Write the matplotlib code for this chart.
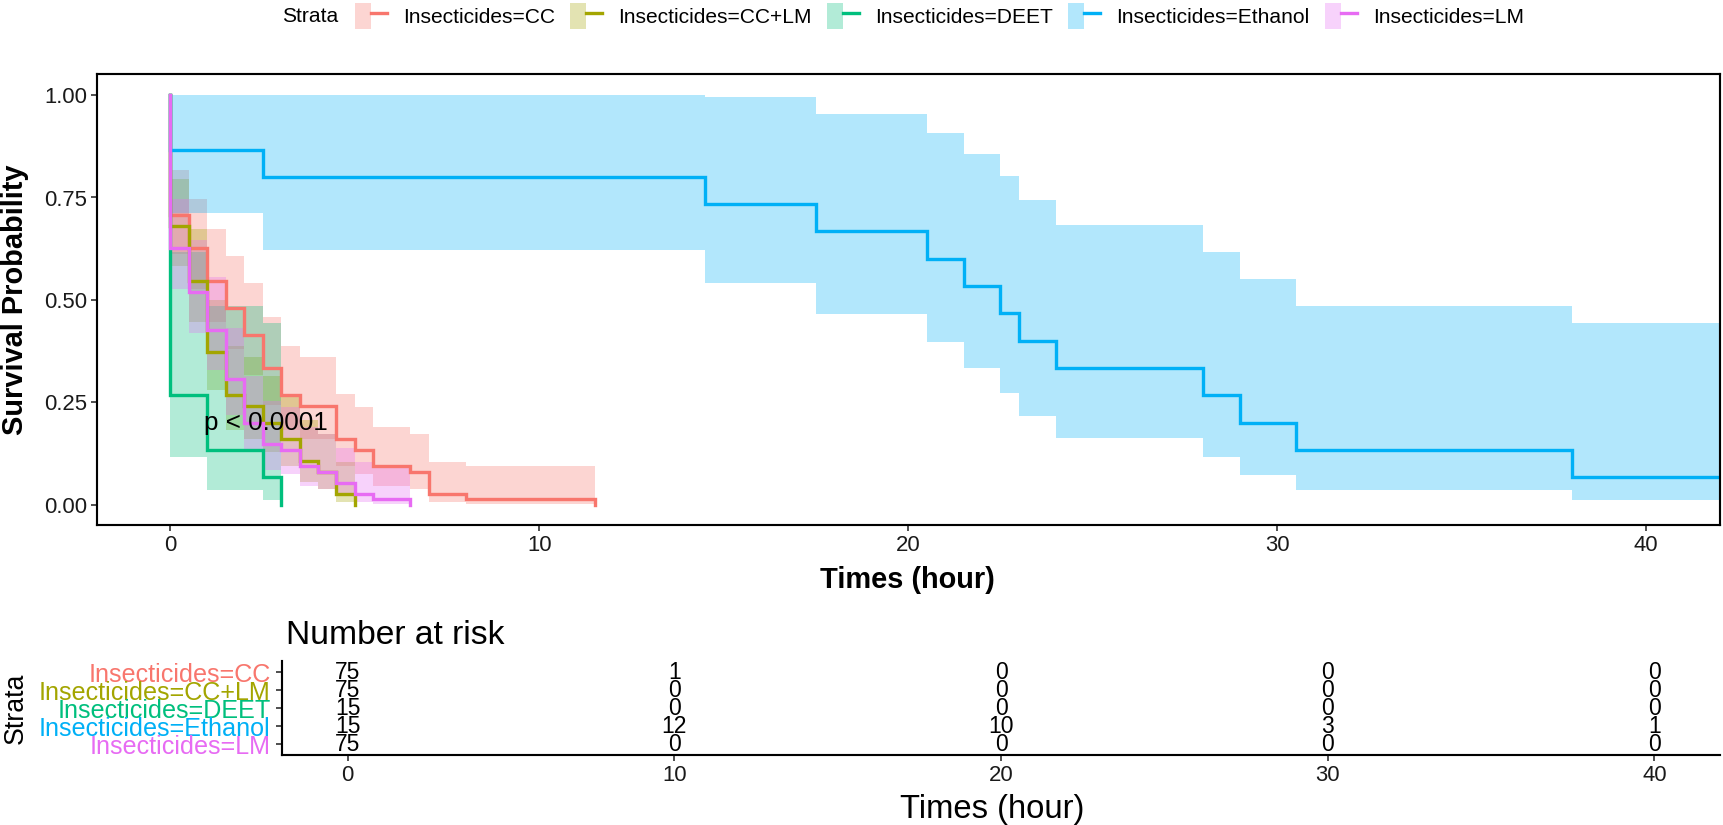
import matplotlib
matplotlib.use("Agg")
import matplotlib.pyplot as plt
from matplotlib.patches import Patch
from matplotlib.lines import Line2D
from matplotlib.legend_handler import HandlerTuple

plt.rcParams['font.family'] = ['Liberation Sans', 'DejaVu Sans']

strata = ["Insecticides=CC", "Insecticides=CC+LM", "Insecticides=DEET",
          "Insecticides=Ethanol", "Insecticides=LM"]
colors = ["#F8766D", "#A3A500", "#00BF7D", "#00B0F6", "#E76BF3"]

# Kaplan-Meier steps (time of each drop, survival after it)
cc_time = [0, 0.5, 1, 1.5, 2, 2.5, 3, 3.5, 4.5, 5, 5.5, 6.5, 7, 8, 11.5]
cc_surv = [0.7067, 0.6267, 0.5467, 0.48, 0.4133, 0.3333, 0.2667, 0.24, 0.16,
           0.1333, 0.0933, 0.08, 0.0267, 0.0133, 0]
cc_lower = [0.6108, 0.5262, 0.4449, 0.3793, 0.3156, 0.2420, 0.1832, 0.1604,
            0.0953, 0.0749, 0.0461, 0.0371, 0.0068, 0.0019, 0]
cc_upper = [0.8177, 0.7463, 0.6718, 0.6075, 0.5413, 0.4591, 0.3881, 0.3590,
            0.2687, 0.2374, 0.1890, 0.1724, 0.1047, 0.0934, 0]

cclm_time = [0, 0.5, 1, 1.5, 2, 2.5, 3, 3.5, 4, 4.5, 5]
cclm_surv = [0.68, 0.5467, 0.3733, 0.2667, 0.24, 0.2, 0.16, 0.1067, 0.08, 0.0267, 0]
cclm_lower = [0.5822, 0.4449, 0.2785, 0.1832, 0.1604, 0.1272, 0.0953, 0.0554,
              0.0371, 0.0068, 0]
cclm_upper = [0.7942, 0.6718, 0.5005, 0.3881, 0.3590, 0.3145, 0.2687, 0.2053,
              0.1724, 0.1047, 0]

deet_time = [0, 1, 2.5, 3]
deet_surv = [0.2667, 0.1333, 0.0667, 0]
deet_lower = [0.1152, 0.0367, 0.0100, 0]
deet_upper = [0.6172, 0.4845, 0.4429, 0]

eth_time = [0, 2.5, 14.5, 17.5, 20.5, 21.5, 22.5, 23, 24, 28, 29, 30.5, 38, 42]
eth_surv = [0.8667, 0.8, 0.7333, 0.6667, 0.6, 0.5333, 0.4667, 0.4, 0.3333,
            0.2667, 0.2, 0.1333, 0.0667, 0.0667]
eth_lower = [0.7107, 0.6212, 0.5404, 0.4661, 0.3969, 0.3322, 0.2717, 0.2152,
             0.1630, 0.1152, 0.0727, 0.0367, 0.0100, 0.0100]
eth_upper = [1, 1, 0.995, 0.9535, 0.9070, 0.8562, 0.8016, 0.7434, 0.6818,
             0.6172, 0.5503, 0.4845, 0.4429, 0.4429]

lm_time = [0, 0.5, 1, 1.5, 2, 2.5, 3, 3.5, 4, 4.5, 5, 5.5, 6.5]
lm_surv = [0.6267, 0.52, 0.4267, 0.3067, 0.2, 0.1467, 0.1333, 0.0933, 0.08,
           0.0533, 0.0267, 0.0133, 0]
lm_lower = [0.5262, 0.4184, 0.3282, 0.2182, 0.1272, 0.0850, 0.0749, 0.0461,
            0.0371, 0.0206, 0.0068, 0.0019, 0]
lm_upper = [0.7463, 0.6463, 0.5547, 0.4310, 0.3145, 0.2532, 0.2374, 0.1890,
            0.1724, 0.1384, 0.1047, 0.0934, 0]

# number at risk
risk_times = [0, 10, 20, 30, 40]
risk_cc = [75, 1, 0, 0, 0]
risk_cclm = [75, 0, 0, 0, 0]
risk_deet = [15, 0, 0, 0, 0]
risk_eth = [15, 12, 10, 3, 1]
risk_lm = [75, 0, 0, 0, 0]

curves = [(cc_time, cc_surv, cc_lower, cc_upper),
          (cclm_time, cclm_surv, cclm_lower, cclm_upper),
          (deet_time, deet_surv, deet_lower, deet_upper),
          (eth_time, eth_surv, eth_lower, eth_upper),
          (lm_time, lm_surv, lm_lower, lm_upper)]
risks = [risk_cc, risk_cclm, risk_deet, risk_eth, risk_lm]

# layout is worked out on a 1568x751 grid, saved at 1723x825
W, H = 1568, 751
fig = plt.figure(figsize=(W / 100, H / 100), dpi=1723 / (W / 100))


def box(l, t, r, b):
    return [l / W, 1 - b / H, (r - l) / W, (b - t) / H]


# ---- survival curves ----
ax = fig.add_axes(box(88, 68, 1565, 478))
for (t, s, lo, up), c in zip(curves, colors):
    ax.plot([0] + t, [1] + s, drawstyle="steps-post", color=c, lw=2.2,
            solid_joinstyle="miter")
for (t, s, lo, up), c in zip(curves, colors):
    ax.fill_between([0] + t, [1] + lo, [1] + up, step="post", color=c,
                    alpha=0.3, lw=0)

ax.set_xlim(-2, 42)
ax.set_ylim(-0.05, 1.05)
ax.set_xticks([0, 10, 20, 30, 40])
ax.set_yticks([0, 0.25, 0.5, 0.75, 1.0])
ax.set_yticklabels(["0.00", "0.25", "0.50", "0.75", "1.00"])
for sp in ax.spines.values():
    sp.set_linewidth(1.4)
ax.tick_params(labelsize=14.5, length=3.8, width=1.1, pad=2.5,
               colors="#333333", labelcolor="#1a1a1a")
ax.text(0.9, 0.2, "p < 0.0001", fontsize=17, ha="left", va="center")

fig.text(14 / W, 1 - 273 / H, "Survival Probability", rotation=90,
         fontsize=19, fontweight="bold", ha="center", va="center")
fig.text(826 / W, 1 - 528 / H, "Times (hour)", fontsize=19,
         fontweight="bold", ha="center", va="center")

# ---- legend ----
handles = [(Patch(facecolor=c, alpha=0.3, lw=0), Line2D([], [], color=c, lw=2.2))
           for c in colors]
fig.text(308 / W, 1 - 15 / H, "Strata", fontsize=13.8, ha="right", va="center")
fig.legend(handles, strata, handler_map={tuple: HandlerTuple(ndivide=None, pad=0)},
           loc="center left", bbox_to_anchor=(323 / W, 1 - 15 / H), ncol=5,
           frameon=False, fontsize=13.8, handlelength=1.5, handleheight=1.5,
           handletextpad=0.78, columnspacing=0.73, borderpad=0, borderaxespad=0)

# ---- risk table ----
rt = fig.add_axes(box(257, 602, 1565, 687))
ypos = [5, 4, 3, 2, 1]
for y, r in zip(ypos, risks):
    for tt, n in zip(risk_times, r):
        rt.text(tt, y, str(n), fontsize=15, ha="center", va="center")
rt.set_xlim(-2, 42)
rt.set_ylim(0.4, 5.6)
rt.set_xticks(risk_times)
rt.set_yticks(ypos)
rt.set_yticklabels(strata)
rt.spines["top"].set_visible(False)
rt.spines["right"].set_visible(False)
rt.spines["left"].set_linewidth(1.4)
rt.spines["bottom"].set_linewidth(1.4)
rt.tick_params(axis="x", labelsize=14.5, length=3.8, width=1.1, pad=3,
               colors="#333333", labelcolor="#1a1a1a")
rt.tick_params(axis="y", length=3.8, width=1.1, pad=4, color="#333333",
               labelsize=16.5)
for lab, c in zip(rt.get_yticklabels(), colors):
    lab.set_color(c)

fig.text(260 / W, 1 - 578 / H, "Number at risk", fontsize=22,
         ha="left", va="center")
fig.text(14 / W, 1 - 645 / H, "Strata", rotation=90, fontsize=17.5,
         ha="center", va="center")
fig.text(903 / W, 1 - 737 / H, "Times (hour)", fontsize=21.5,
         ha="center", va="center")

fig.savefig("out.png", dpi=1723 / (W / 100))
